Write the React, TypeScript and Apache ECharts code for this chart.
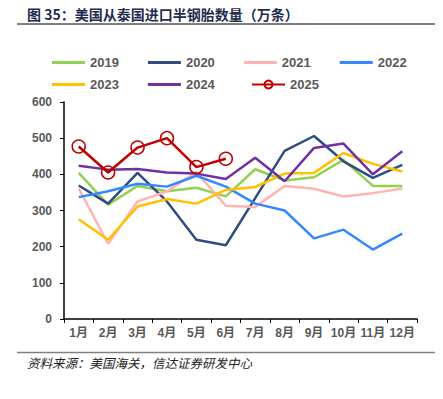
import React, { useEffect, useRef } from "react";
import * as echarts from "echarts";

const months = ["1月", "2月", "3月", "4月", "5月", "6月", "7月", "8月", "9月", "10月", "11月", "12月"];
const s2019 = [404, 316, 368, 353, 363, 339, 414, 383, 392, 440, 368, 368];
const s2020 = [369, 319, 404, 325, 219, 204, 334, 465, 506, 436, 390, 426];
const s2021 = [361, 208, 325, 353, 406, 313, 310, 368, 360, 339, 348, 361];
const s2022 = [337, 353, 374, 366, 396, 366, 319, 300, 223, 247, 192, 236];
const s2023 = [276, 219, 311, 332, 319, 357, 365, 402, 404, 459, 429, 408];
const s2024 = [424, 413, 415, 405, 402, 387, 446, 381, 473, 485, 400, 464];
const s2025 = [477, 405, 474, 500, 420, 443];

const seriesDefs = [
  { name: "2019", data: s2019, color: "#92D050" },
  { name: "2020", data: s2020, color: "#2F4E7D" },
  { name: "2021", data: s2021, color: "#FFB3B3" },
  { name: "2022", data: s2022, color: "#3388FF" },
  { name: "2023", data: s2023, color: "#FFC000" },
  { name: "2024", data: s2024, color: "#7030A0" },
];

const FONT = "'Liberation Sans', 'Noto Sans CJK SC', sans-serif";

export default function App() {
  const ref = useRef<HTMLDivElement>(null);
  useEffect(() => {
    document.body.style.margin = "0";
    const chart = echarts.init(ref.current!, null, { renderer: "svg" });
    const legendText = { color: "#595959", fontSize: 13, fontWeight: "bold" as const, fontFamily: FONT };
    const lineLegend = { icon: "rect", itemWidth: 33, itemHeight: 3, itemGap: 29, textStyle: legendText };
    chart.setOption({
      animation: false,
      backgroundColor: "#fff",
      graphic: [
        {
          type: "text",
          left: 27,
          top: 7,
          style: { text: "图 35：美国从泰国进口半钢胎数量（万条）", fill: "#1F2D4F", font: "bold 14px 'Noto Sans CJK SC', sans-serif" },
        },
        { type: "line", shape: { x1: 17, y1: 24, x2: 435, y2: 24 }, style: { stroke: "#7F7F7F", lineWidth: 2 } },
        { type: "line", shape: { x1: 17, y1: 352.5, x2: 435, y2: 352.5 }, style: { stroke: "#7F7F7F", lineWidth: 1.5 } },
        {
          type: "text",
          left: 27,
          top: 356,
          style: { text: "资料来源：美国海关，信达证券研发中心", fill: "#222", font: "italic 12.5px 'Noto Sans CJK SC', serif" },
        },
      ],
      legend: [
        { ...lineLegend, data: ["2019", "2020", "2021", "2022"], left: 47, top: 51 },
        { ...lineLegend, data: ["2023", "2024"], left: 47, top: 73 },
        {
          data: ["2025"],
          left: 246,
          top: 73,
          itemWidth: 33,
          itemHeight: 10,
          textStyle: legendText,
        },
      ],
      grid: { left: 64, right: 26, top: 102, bottom: 80, containLabel: false },
      xAxis: {
        type: "category",
        data: months,
        boundaryGap: true,
        axisLine: { lineStyle: { color: "#000", width: 1.5 } },
        axisTick: { show: true, length: 4, lineStyle: { color: "#000" } },
        axisLabel: { color: "#595959", fontSize: 12, fontWeight: "bold", fontFamily: FONT, margin: 8, interval: 0 },
      },
      yAxis: {
        type: "value",
        min: 0,
        max: 600,
        interval: 100,
        splitLine: { show: false },
        axisLine: { show: true, lineStyle: { color: "#000", width: 1.5 } },
        axisTick: { show: true, length: 4, lineStyle: { color: "#000" } },
        axisLabel: { color: "#595959", fontSize: 12, fontWeight: "bold", fontFamily: FONT, margin: 12 },
      },
      series: [
        ...seriesDefs.map((s) => ({
          name: s.name,
          type: "line",
          data: s.data,
          symbol: "none",
          color: s.color,
          lineStyle: { width: 2.5, color: s.color },
        })),
        {
          name: "2025",
          type: "line",
          data: s2025,
          symbol: "circle",
          symbolSize: 13,
          color: "#C00000",
          itemStyle: { color: "rgba(255,255,255,0)", borderColor: "#C00000", borderWidth: 1.5 },
          lineStyle: { width: 2.5, color: "#C00000" },
          z: 5,
        },
      ],
    });
    return () => chart.dispose();
  }, []);
  return <div ref={ref} style={{ width: 443, height: 399 }} />;
}
